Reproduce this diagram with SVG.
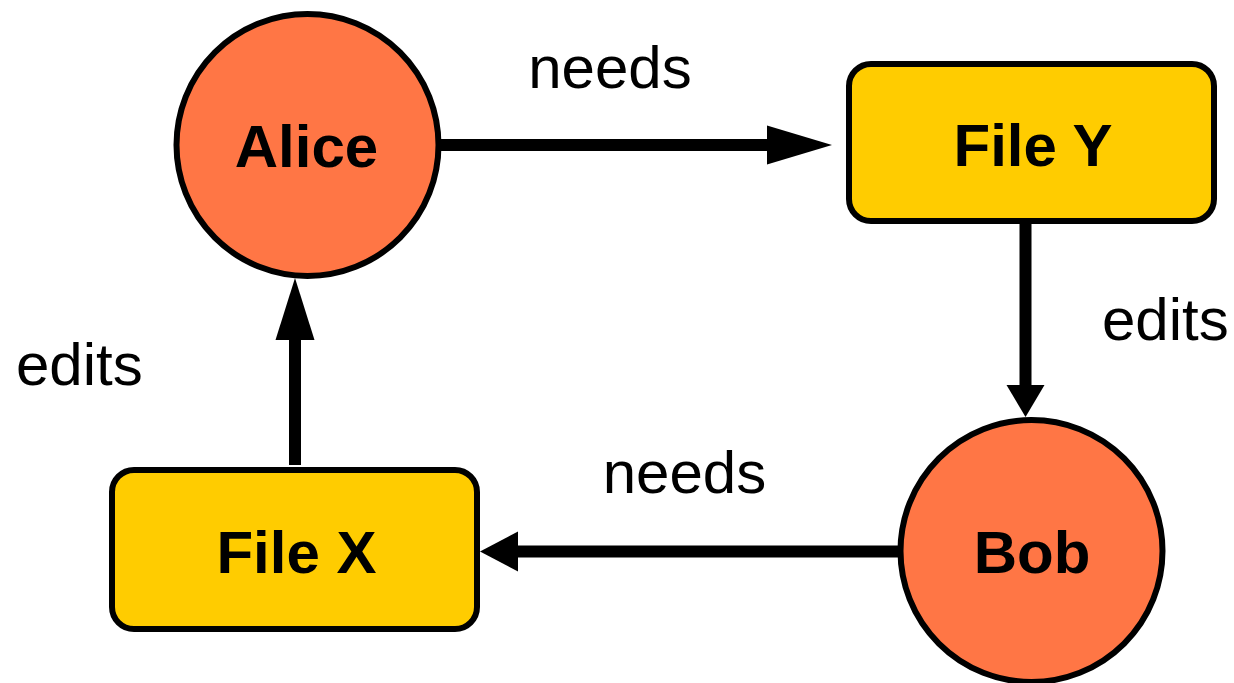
<svg xmlns="http://www.w3.org/2000/svg" width="1234" height="683" viewBox="0 0 1234 683">
<style>
.person{fill:#FF7645;stroke:#000;stroke-width:6}
.file{fill:#FFCC00;stroke:#000;stroke-width:6}
.lbl{font-family:"Liberation Sans",Arial,sans-serif;font-weight:bold;font-size:60px;fill:#000;text-anchor:middle}
.edge{font-family:"Liberation Sans",Arial,sans-serif;font-size:60px;fill:#000}
.line{stroke:#000;stroke-width:12;fill:none}
.head{fill:#000}
</style>
<rect width="1234" height="683" fill="#fff"/>
<g id="connectors">
  <line class="line" x1="440" y1="145" x2="770" y2="145"/>
  <polygon class="head" points="767,125.5 832,145 767,164.5"/>
  <line class="line" x1="1025.5" y1="224" x2="1025.5" y2="388"/>
  <polygon class="head" points="1006.5,385 1044.5,385 1025.5,417"/>
  <line class="line" x1="905" y1="551.5" x2="515" y2="551.5"/>
  <polygon class="head" points="518,531.5 480,551.5 518,571.5"/>
  <line class="line" x1="295" y1="465" x2="295" y2="337"/>
  <polygon class="head" points="275.5,340 314.5,340 295,278"/>
  <text class="edge" x="610" y="88" text-anchor="middle">needs</text>
  <text class="edge" x="1102" y="340">edits</text>
  <text class="edge" x="684.5" y="493" text-anchor="middle">needs</text>
  <text class="edge" x="16" y="385">edits</text>
</g>
<g id="alice">
  <circle class="person" cx="307.5" cy="145" r="131"/>
  <text class="lbl" x="306.5" y="167">Alice</text>
</g>
<g id="fileY">
  <rect class="file" x="849" y="64" width="365" height="157" rx="22"/>
  <text class="lbl" x="1033" y="166">File Y</text>
</g>
<g id="bob">
  <circle class="person" cx="1031.5" cy="551" r="131"/>
  <text class="lbl" x="1032" y="573">Bob</text>
</g>
<g id="fileX">
  <rect class="file" x="112" y="470" width="365" height="159" rx="22"/>
  <text class="lbl" x="296.5" y="573">File X</text>
</g>
</svg>
